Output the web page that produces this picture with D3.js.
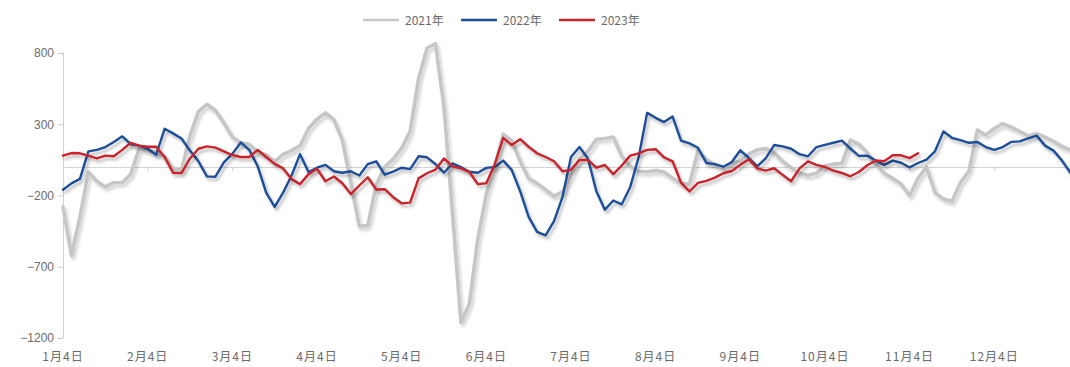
<!DOCTYPE html>
<html><head><meta charset="utf-8">
<script src="https://cdn.jsdelivr.net/npm/d3@7"></script>
<style>
html,body{margin:0;padding:0;background:#fff;}
svg{display:block;font-family:"Noto Sans CJK SC","Liberation Sans",sans-serif;}
</style></head>
<body>
<svg id="chart" width="1070" height="367"></svg>
<script>
const seriesNames = ["2021年", "2022年", "2023年"];
const monthLabels = ["1月4日","2月4日","3月4日","4月4日","5月4日","6月4日","7月4日","8月4日","9月4日","10月4日","11月4日","12月4日"];
const yTicks = [800, 300, -200, -700, -1200];
const stepMonths = 0.1;

const values2021 = [-280,-620,-350,-35,-100,-140,-110,-110,-50,131,
121,95,75,-15,-20,220,390,440,397,310,
210,170,160,105,84,38,88,115,150,270,
335,380,332,189,-110,-415,-410,-125,0,55,
132,250,620,835,865,420,-320,-1090,-960,-500,
-190,5,230,185,40,-80,-115,-160,-205,-175,
-60,58,110,195,200,210,75,5,-30,-33,
-25,-35,-79,-115,-120,115,50,18,-8,26,
40,90,120,130,100,40,-5,-42,-58,-44,
8,20,26,189,160,100,20,-44,-80,-120,
-200,-80,0,-180,-225,-240,-110,-30,259,225,
270,305,280,250,218,234,210,180,145,119];

const values2022 = [-160,-115,-83,110,120,140,175,215,160,150,
128,85,268,236,200,115,40,-66,-68,32,
92,172,120,5,-180,-280,-180,-60,90,-35,
-5,15,-30,-40,-30,-60,20,40,-54,-32,
-5,-15,75,68,20,-40,25,0,-33,-40,
-6,0,45,-20,-170,-350,-455,-480,-380,-210,
70,140,60,-170,-300,-235,-262,-140,70,380,
345,315,355,185,166,135,28,20,2,35,
117,65,5,60,154,145,128,90,75,140,
155,170,185,130,78,80,45,15,45,30,
-3,28,52,110,250,205,189,170,175,140,
120,140,176,180,201,220,150,115,45,-40];

const values2023 = [80,98,96,80,60,80,75,120,170,150,
142,142,70,-40,-42,60,128,145,136,110,
84,70,70,120,70,22,-10,-85,-120,-50,
-12,-100,-67,-114,-190,-130,-72,-158,-156,-212,
-255,-250,-80,-44,-18,60,5,-10,-35,-120,
-114,20,205,154,195,142,96,70,40,-30,
-20,49,50,-5,14,-50,10,80,96,120,
125,68,40,-110,-172,-112,-97,-75,-44,-28,
15,55,-10,-25,-9,-55,-100,-10,40,15,
0,-25,-42,-65,-35,12,46,40,82,82,
62,96];

const colors = ["#c6c6c6", "#1f4e99", "#c9242b"];
const widths = [3.6, 2.4, 2.4];

const svg = d3.select("#chart");
const x = d3.scaleLinear().domain([0, 11.8]).range([63, 1062]);
const y = d3.scaleLinear().domain([-1200, 800]).range([338, 53]);

const defs = svg.append("defs");
const f = defs.append("filter").attr("id","shadow").attr("x","-5%").attr("y","-20%").attr("width","110%").attr("height","140%");
f.append("feDropShadow").attr("dx",2).attr("dy",3).attr("stdDeviation",1.8).attr("flood-color","#000").attr("flood-opacity",0.28);
const fg = defs.append("filter").attr("id","shadowGray").attr("x","-5%").attr("y","-20%").attr("width","110%").attr("height","140%");
fg.append("feGaussianBlur").attr("in","SourceGraphic").attr("stdDeviation",0.7).attr("result","b");
fg.append("feDropShadow").attr("in","b").attr("dx",2).attr("dy",3).attr("stdDeviation",1.8).attr("flood-color","#000").attr("flood-opacity",0.18);

// y axis
const yAxis = svg.append("g").attr("transform","translate(63,0)")
  .call(d3.axisLeft(y).tickValues(yTicks).tickSize(5).tickPadding(4).tickFormat(d => d < 0 ? "\u2212" + Math.abs(d) : String(d)));
yAxis.select(".domain").attr("stroke","#d0d0d0").attr("d", `M-0.5,${y(800)}H0.5V${y(-1200)}H-0.5`);
yAxis.selectAll(".tick line").attr("stroke","#c8c8c8");
yAxis.selectAll(".tick text").attr("fill","#6a6a6a").style("font-size","12px").style("font-family","'Liberation Sans',Arial,sans-serif");

// zero (category) axis
const xAxis = svg.append("g").attr("transform",`translate(0,${y(0)})`)
  .call(d3.axisBottom(x).tickValues(d3.range(1, 12)).tickSize(4).tickFormat(""));
xAxis.select(".domain").attr("stroke","#d4d4d4").attr("d", `M63,0.5H1068`);
xAxis.selectAll(".tick line").attr("stroke","#cfcfcf");

// month labels at bottom
svg.append("g").selectAll("text").data(monthLabels).join("text")
  .attr("x", (d,i) => x(i)).attr("y", 361)
  .attr("text-anchor","middle").attr("fill","#6a6a6a")
  .style("font-size","12px").style("letter-spacing","1px").text(d => d);

// lines
const allSeries = [values2021, values2022, values2023];
const line = d3.line().x((d,i) => x(i * stepMonths)).y(d => y(d));
allSeries.forEach((vals, k) => {
  svg.append("path").datum(vals)
    .attr("fill","none").attr("stroke", colors[k]).attr("stroke-width", widths[k])
    .attr("stroke-linejoin","round").attr("stroke-linecap","round")
    .attr("filter", k === 0 ? "url(#shadowGray)" : "url(#shadow)")
    .attr("d", line);
});

// legend
const legend = svg.append("g").attr("transform","translate(363,20)");
const item = legend.selectAll("g").data(seriesNames).join("g")
  .attr("transform",(d,i) => `translate(${i*98},0)`);
item.append("line").attr("x1",0).attr("x2",36).attr("y1",0).attr("y2",0)
  .attr("stroke",(d,i)=>colors[i]).attr("stroke-width",(d,i)=> i===0 ? 2.5 : 2.5);
item.append("text").attr("x",42).attr("y",4.5).attr("fill","#6a6a6a")
  .style("font-size","12px").text(d => d);
</script>
</body></html>
